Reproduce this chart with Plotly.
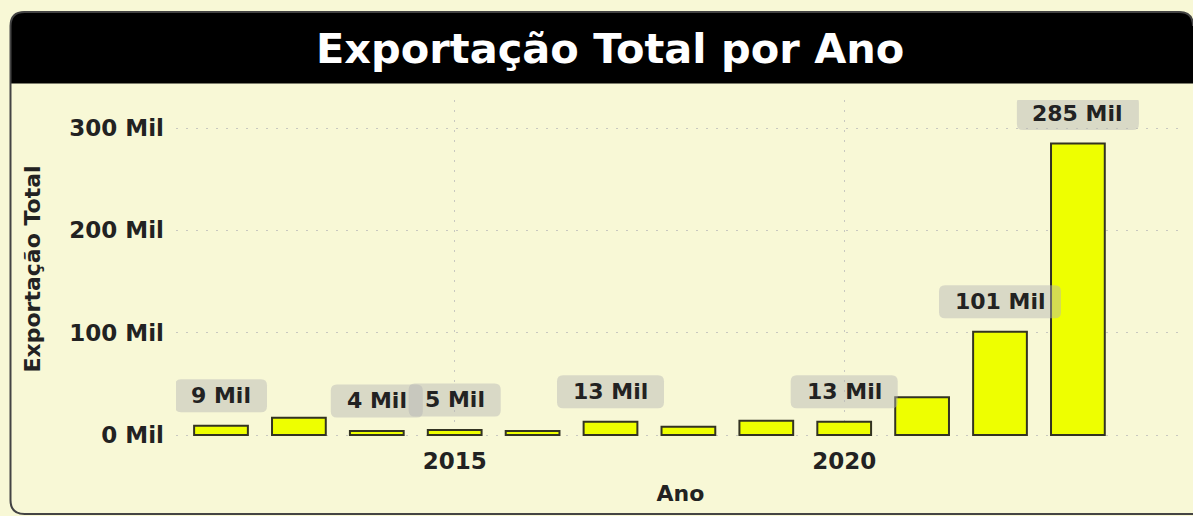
import plotly.graph_objects as go

# ---- data ----
anos = [2012, 2013, 2014, 2015, 2016, 2017, 2018, 2019, 2020, 2021, 2022, 2023]
exportacao_mil = [9, 17, 4, 5, 4, 13, 8, 14, 13, 37, 101, 285]
anos_com_rotulo = [2012, 2014, 2015, 2017, 2020, 2022, 2023]
y_ticks = [0, 100, 200, 300]
x_ticks = [2015, 2020]

titulo = "Exportação Total por Ano"
titulo_x = "Ano"
titulo_y = "Exportação Total"

# ---- style / layout ----
W, H = 1193, 516
ML, MR, MT, MB = 176, 8, 100, 78
PW, PH = W - ML - MR, H - MT - MB
BG = "#f8f8d6"
BAR = "#eeff00"
TXT = "#222222"
FONT = "DejaVu Sans"

# x range so that 2012 sits at px 221 and one year spans ~77.9 px
X_PER_YEAR = 77.9
x_lo = 2012 - (221 - ML) / X_PER_YEAR
x_hi = x_lo + PW / X_PER_YEAR


def px(x):
    return (x - ML) / PW


def py(y):
    return (H - MB - y) / PH


fig = go.Figure()
fig.add_trace(go.Bar(
    x=anos, y=exportacao_mil, width=0.69,
    marker=dict(color=BAR, line=dict(color="#333322", width=2)),
    hoverinfo="x+y",
))

shapes = []
annotations = []

# label boxes (rounded) + texts
for a, v in zip(anos, exportacao_mil):
    if a not in anos_com_rotulo:
        continue
    txt = f"{v:.0f} Mil"
    nd = len(f"{v:.0f}")
    w = 77 + 15 * nd
    h = 33
    c = 30
    r = 6
    xl, xr = -w / 2, w / 2
    yb, yt = c - h / 2, c + h / 2
    path = (f"M {xl + r},{yb} L {xr - r},{yb} Q {xr},{yb} {xr},{yb + r} "
            f"L {xr},{yt - r} Q {xr},{yt} {xr - r},{yt} L {xl + r},{yt} "
            f"Q {xl},{yt} {xl},{yt - r} L {xl},{yb + r} Q {xl},{yb} {xl + r},{yb} Z")
    shapes.append(dict(type="path", xref="x", yref="y", xsizemode="pixel", ysizemode="pixel",
                       xanchor=a, yanchor=v, path=path,
                       fillcolor="rgba(180,180,180,0.45)", line=dict(width=0), layer="above"))
    annotations.append(dict(x=a, y=v, xref="x", yref="y", text=txt, showarrow=False,
                            yshift=c, yanchor="middle", xanchor="center",
                            font=dict(family=FONT, size=22, color=TXT, weight="bold")))

# outer rounded border (open on the right, where the card runs off the edge)
x0, x1, y0, y1, R = 10.5, 1193, 12, 514, 14
border = (f"M {px(x1)},{py(y0 + R)} Q {px(x1)},{py(y0)} {px(x1 - R)},{py(y0)} "
          f"L {px(x0 + R)},{py(y0)} Q {px(x0)},{py(y0)} {px(x0)},{py(y0 + R)} "
          f"L {px(x0)},{py(y1 - R)} Q {px(x0)},{py(y1)} {px(x0 + R)},{py(y1)} "
          f"L {px(x1 + 5)},{py(y1)}")
# title band
tb0, tb1 = 12, 83
band = (f"M {px(x0)},{py(tb1)} L {px(x0)},{py(tb0 + R)} Q {px(x0)},{py(tb0)} {px(x0 + R)},{py(tb0)} "
        f"L {px(x1 - R)},{py(tb0)} Q {px(x1)},{py(tb0)} {px(x1)},{py(tb0 + R)} "
        f"L {px(x1)},{py(tb1)} Z")
shapes.append(dict(type="path", xref="paper", yref="paper", path=band,
                   fillcolor="#000000", line=dict(color="#000000", width=1), layer="above"))
shapes.append(dict(type="path", xref="paper", yref="paper", path=border,
                   fillcolor="rgba(0,0,0,0)", line=dict(color="#444444", width=2), layer="above"))

annotations.append(dict(x=px(610), y=py(48), xref="paper", yref="paper", text=titulo,
                        showarrow=False, xanchor="center", yanchor="middle",
                        font=dict(family=FONT, size=41.5, color="#ffffff", weight="bold")))

fig.update_layout(
    width=W, height=H,
    margin=dict(l=ML, r=MR, t=MT, b=MB, autoexpand=False),
    paper_bgcolor=BG, plot_bgcolor="rgba(0,0,0,0)",
    showlegend=False,
    font=dict(family=FONT, color=TXT),
    shapes=shapes, annotations=annotations,
    xaxis=dict(
        range=[x_lo, x_hi], tickvals=x_ticks, ticktext=[str(t) for t in x_ticks],
        showgrid=True, gridcolor="#c8c8c0", griddash="2px,8px", gridwidth=1,
        zeroline=False, showline=False, ticks="", ticklabelstandoff=7,
        tickfont=dict(family=FONT, size=23, color=TXT, weight="bold"),
        title=dict(text=titulo_x, standoff=12,
                   font=dict(family=FONT, size=22, color=TXT, weight="bold")),
        automargin=False,
    ),
    yaxis=dict(
        range=[-2.9, 327.5], tickvals=y_ticks, ticktext=[f"{t} Mil" for t in y_ticks],
        showgrid=True, gridcolor="#c8c8c0", griddash="2px,8px", gridwidth=1,
        zeroline=False, showline=False, ticks="", ticklabelstandoff=11,
        tickfont=dict(family=FONT, size=23, color=TXT, weight="bold"),
        title=dict(text=titulo_y, standoff=22,
                   font=dict(family=FONT, size=22, color=TXT, weight="bold")),
        automargin=False,
    ),
)

fig.write_html("out.html", config={"displayModeBar": False},
               post_script="document.body.style.margin='0';")
